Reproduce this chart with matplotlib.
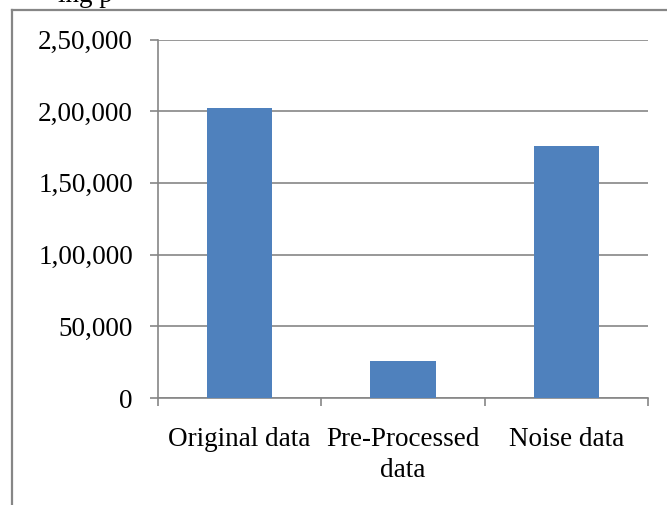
import matplotlib
matplotlib.use("Agg")
import matplotlib.pyplot as plt
from matplotlib.lines import Line2D

categories = ["Original data", "Pre-Processed\ndata", "Noise data"]
values = [202000, 26000, 176000]
yticks = [0, 50000, 100000, 150000, 200000, 250000]
ytick_labels = ["0", "50,000", "1,00,000", "1,50,000", "2,00,000", "2,50,000"]

W, H = 667, 505
fig = plt.figure(figsize=(W / 100, H / 100), dpi=100)
plt.rcParams['font.family'] = ['Liberation Serif', 'DejaVu Serif']

gray = "#868686"
ax = fig.add_axes([158 / W, 1 - 398 / H, (648 - 158) / W, (398 - 39.5) / H])
x = list(range(len(categories)))
ax.bar(x, values, width=0.4, color="#4F81BD", zorder=3)
ax.set_xlim(-0.5, 2.5)
ax.set_ylim(0, 250000)
ax.set_yticks(yticks)
ax.set_yticklabels(ytick_labels, fontsize=19.5)
ax.set_xticks([-0.5, 0.5, 1.5, 2.5])
ax.set_xticklabels([])
ax.set_xticks(x, minor=True)
ax.set_xticklabels(categories, minor=True, fontsize=19.5, linespacing=1.32)
ax.tick_params(axis='x', which='minor', length=0, pad=21)
ax.tick_params(axis='x', which='major', length=6, width=1.2, color=gray, direction='out')
ax.tick_params(axis='y', length=6, width=1.2, color=gray, pad=12)
ax.yaxis.grid(True, color=gray, linewidth=1.2, zorder=0)
for s in ['top', 'right']:
    ax.spines[s].set_visible(False)
for s in ['left', 'bottom']:
    ax.spines[s].set_color(gray)
    ax.spines[s].set_linewidth(1.2)
ax.set_axisbelow(True)

# outer frame of the chart area
fig.add_artist(Line2D([11.5 / W, 11.5 / W], [0, 1 - 10 / H], transform=fig.transFigure, color=gray, lw=1.6))
fig.add_artist(Line2D([11.5 / W, 1], [1 - 10 / H, 1 - 10 / H], transform=fig.transFigure, color=gray, lw=1.6))

# fragment of surrounding document text, cut off at the top
fig.text(58 / W, 1 - 1.5 / H, "ing p", fontsize=19.5, ha='left', va='baseline')

fig.savefig("out.png", dpi=100)
